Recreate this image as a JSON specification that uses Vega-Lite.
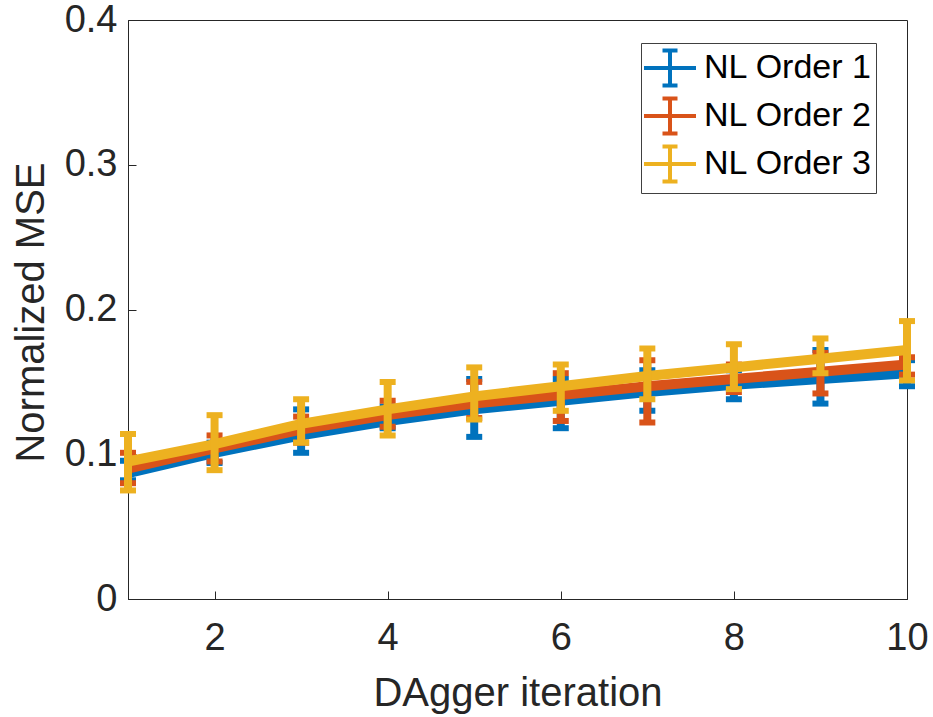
{
  "$schema": "https://vega.github.io/schema/vega-lite/v6.json",
  "width": 779,
  "height": 579,
  "autosize": "none",
  "padding": {"left": 128, "top": 20, "right": 26, "bottom": 118},
  "background": "white",
  "config": {
    "font": "Liberation Sans",
    "view": {"stroke": "#262626", "strokeWidth": 1},
    "axis": {
      "grid": false,
      "domainColor": "#262626",
      "tickColor": "#262626",
      "labelColor": "#262626",
      "titleColor": "#262626",
      "labelFont": "Liberation Sans",
      "titleFont": "Liberation Sans",
      "labelFontSize": 38,
      "titleFontSize": 40,
      "titleFontWeight": "normal",
      "tickSize": -8
    }
  },
  "data": {
    "values": [
      {"s": "NL Order 1", "x": 1, "m": 0.087, "lo": 0.082, "hi": 0.0955},
      {"s": "NL Order 1", "x": 2, "m": 0.101, "lo": 0.094, "hi": 0.108},
      {"s": "NL Order 1", "x": 3, "m": 0.113, "lo": 0.101, "hi": 0.131},
      {"s": "NL Order 1", "x": 4, "m": 0.123, "lo": 0.118, "hi": 0.133},
      {"s": "NL Order 1", "x": 5, "m": 0.131, "lo": 0.112, "hi": 0.152},
      {"s": "NL Order 1", "x": 6, "m": 0.137, "lo": 0.118, "hi": 0.152},
      {"s": "NL Order 1", "x": 7, "m": 0.143, "lo": 0.130, "hi": 0.158},
      {"s": "NL Order 1", "x": 8, "m": 0.148, "lo": 0.138, "hi": 0.158},
      {"s": "NL Order 1", "x": 9, "m": 0.152, "lo": 0.135, "hi": 0.172},
      {"s": "NL Order 1", "x": 10, "m": 0.156, "lo": 0.147, "hi": 0.165},
      {"s": "NL Order 2", "x": 1, "m": 0.090, "lo": 0.080, "hi": 0.101},
      {"s": "NL Order 2", "x": 2, "m": 0.104, "lo": 0.095, "hi": 0.113},
      {"s": "NL Order 2", "x": 3, "m": 0.117, "lo": 0.108, "hi": 0.126},
      {"s": "NL Order 2", "x": 4, "m": 0.127, "lo": 0.119, "hi": 0.137},
      {"s": "NL Order 2", "x": 5, "m": 0.135, "lo": 0.125, "hi": 0.150},
      {"s": "NL Order 2", "x": 6, "m": 0.141, "lo": 0.123, "hi": 0.156},
      {"s": "NL Order 2", "x": 7, "m": 0.147, "lo": 0.122, "hi": 0.165},
      {"s": "NL Order 2", "x": 8, "m": 0.152, "lo": 0.143, "hi": 0.162},
      {"s": "NL Order 2", "x": 9, "m": 0.157, "lo": 0.142, "hi": 0.170},
      {"s": "NL Order 2", "x": 10, "m": 0.162, "lo": 0.155, "hi": 0.167},
      {"s": "NL Order 3", "x": 1, "m": 0.095, "lo": 0.075, "hi": 0.114},
      {"s": "NL Order 3", "x": 2, "m": 0.107, "lo": 0.089, "hi": 0.127},
      {"s": "NL Order 3", "x": 3, "m": 0.121, "lo": 0.108, "hi": 0.138},
      {"s": "NL Order 3", "x": 4, "m": 0.131, "lo": 0.113, "hi": 0.150},
      {"s": "NL Order 3", "x": 5, "m": 0.140, "lo": 0.124, "hi": 0.160},
      {"s": "NL Order 3", "x": 6, "m": 0.147, "lo": 0.130, "hi": 0.162},
      {"s": "NL Order 3", "x": 7, "m": 0.154, "lo": 0.138, "hi": 0.173},
      {"s": "NL Order 3", "x": 8, "m": 0.160, "lo": 0.145, "hi": 0.176},
      {"s": "NL Order 3", "x": 9, "m": 0.166, "lo": 0.156, "hi": 0.180},
      {"s": "NL Order 3", "x": 10, "m": 0.172, "lo": 0.151, "hi": 0.192}
    ]
  },
  "encoding": {
    "x": {
      "field": "x", "type": "quantitative",
      "scale": {"domain": [1, 10], "nice": false, "zero": false},
      "axis": {"values": [2, 4, 6, 8, 10], "title": "DAgger iteration", "labelPadding": 28, "titleY": 106, "titleBaseline": "alphabetic", "labelFlush": false}
    },
    "color": {
      "field": "s", "type": "nominal",
      "scale": {"domain": ["NL Order 1", "NL Order 2", "NL Order 3"], "range": ["#0072BD", "#D95319", "#EDB120"]},
      "legend": {
        "title": null,
        "orient": "none",
        "legendX": 513,
        "legendY": 23,
        "padding": 3,
        "strokeColor": "#404040",
        "fillColor": "white",
        "symbolType": "M-1.3,0H1.3M0,-0.875V0.875M-0.375,-0.875H0.375M-0.375,0.875H0.375",
        "symbolSize": 1600,
        "symbolStrokeWidth": 4,
        "symbolFillColor": "transparent",
        "symbolOpacity": 1,
        "symbolOffset": 4,
        "labelOffset": 12,
        "labelFontSize": 34,
        "labelFont": "Liberation Sans",
        "labelColor": "#000000",
        "rowPadding": -13,
        "labelLimit": 400
      }
    }
  },
  "layer": [
    {
      "transform": [{"filter": "datum.s == 'NL Order 1'"}],
      "layer": [
        {"mark": {"type": "line", "strokeWidth": 10},
         "encoding": {"y": {"field": "m", "type": "quantitative", "title": "Normalized MSE", "scale": {"domain": [0, 0.4], "nice": false}, "axis": {"values": [0, 0.1, 0.2, 0.3, 0.4], "format": "~g", "labelPadding": 19, "titleX": -85, "titleY": 292, "titleBaseline": "alphabetic"}}}},
        {"mark": {"type": "errorbar", "ticks": {"size": 16, "thickness": 6, "opacity": 1}, "rule": {"strokeWidth": 8, "opacity": 1}},
         "encoding": {"y": {"field": "lo", "type": "quantitative", "title": "Normalized MSE"}, "y2": {"field": "hi"}}}
      ]
    },
    {
      "transform": [{"filter": "datum.s == 'NL Order 2'"}],
      "layer": [
        {"mark": {"type": "line", "strokeWidth": 10},
         "encoding": {"y": {"field": "m", "type": "quantitative", "title": "Normalized MSE"}}},
        {"mark": {"type": "errorbar", "ticks": {"size": 16, "thickness": 6, "opacity": 1}, "rule": {"strokeWidth": 8, "opacity": 1}},
         "encoding": {"y": {"field": "lo", "type": "quantitative", "title": "Normalized MSE"}, "y2": {"field": "hi"}}}
      ]
    },
    {
      "transform": [{"filter": "datum.s == 'NL Order 3'"}],
      "layer": [
        {"mark": {"type": "line", "strokeWidth": 10},
         "encoding": {"y": {"field": "m", "type": "quantitative", "title": "Normalized MSE"}}},
        {"mark": {"type": "errorbar", "ticks": {"size": 16, "thickness": 6, "opacity": 1}, "rule": {"strokeWidth": 8, "opacity": 1}},
         "encoding": {"y": {"field": "lo", "type": "quantitative", "title": "Normalized MSE"}, "y2": {"field": "hi"}}}
      ]
    }
  ]
}
